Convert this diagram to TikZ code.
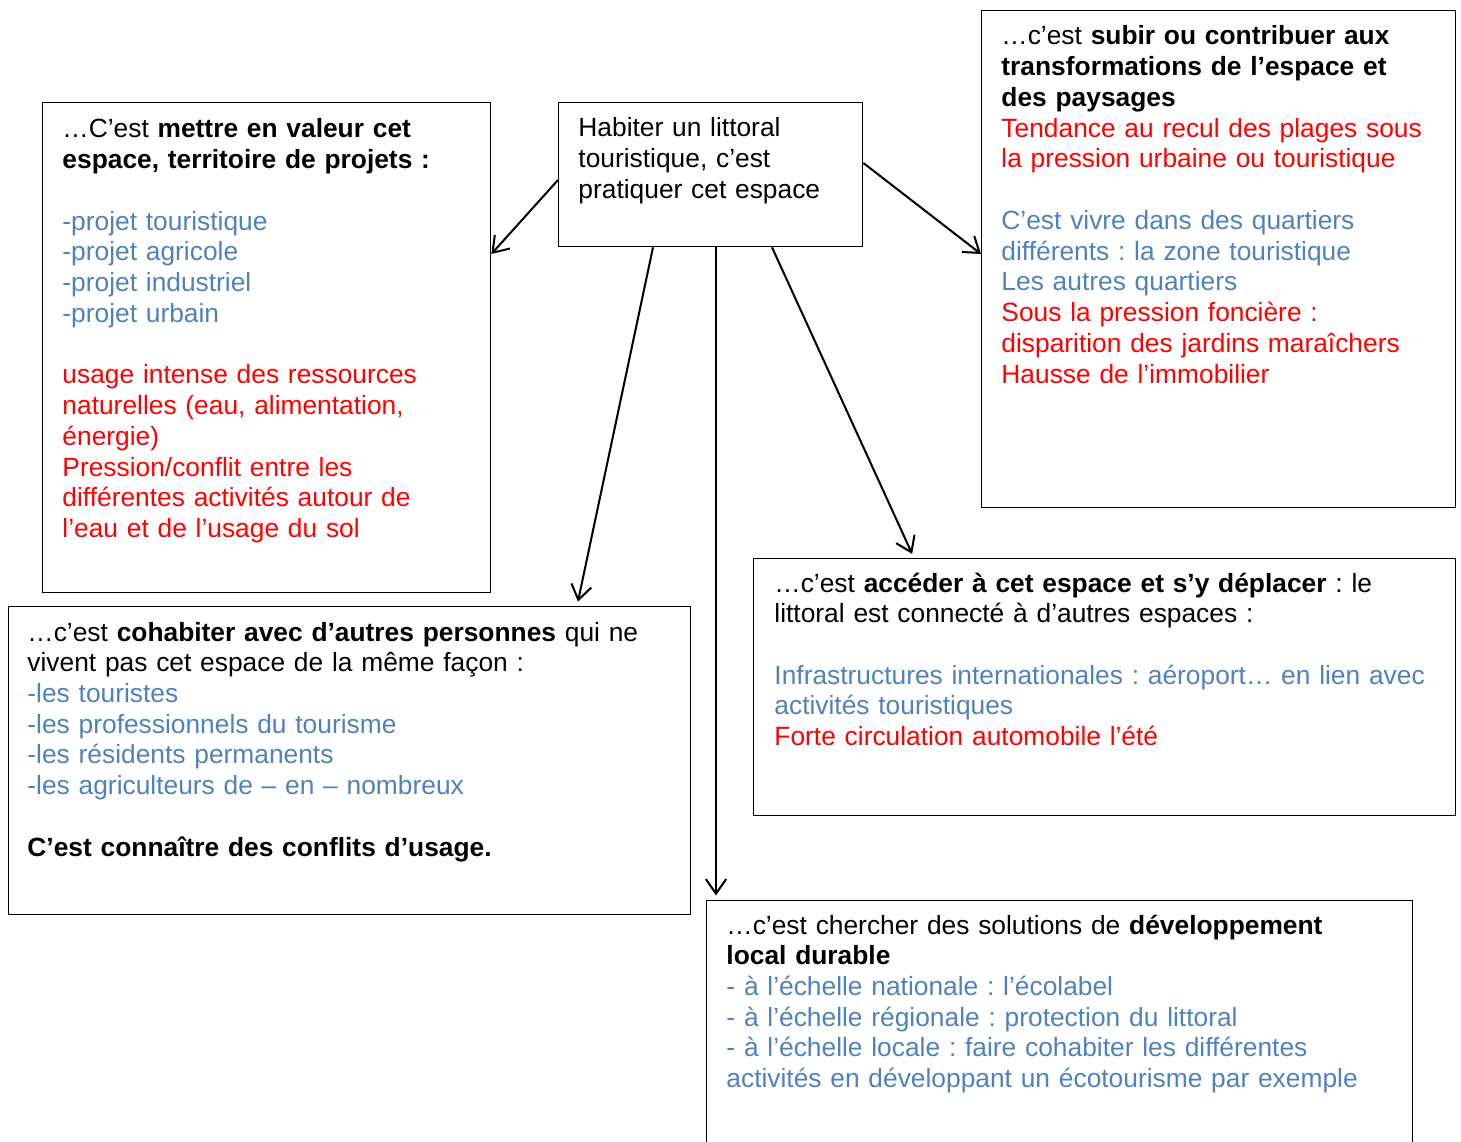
\documentclass[tikz,border=0pt]{standalone}
\usepackage{fontspec}
\setmainfont{Liberation Sans}
\usetikzlibrary{arrows.meta}
\definecolor{bleu}{RGB}{79,129,189}
\definecolor{rouge}{RGB}{255,0,0}
\newlength\px
\setlength\px{0.444pt}
\frenchspacing

\begin{document}
\begin{tikzpicture}[x=0.444pt, y=-0.444pt, font=\fontsize{11.7}{13.65}\selectfont,
    cadre/.style={draw, line width=0.6pt, inner sep=0pt, anchor=north west},
    texte/.style={anchor=base west, inner sep=0pt, align=left},
    fleche/.style={-{Straight Barb[length=6.5pt, width=9pt]}, line width=0.9pt}]
    \useasboundingbox (0,0) rectangle (1461,1142);

    % les cadres
    \node[cadre, minimum width=304\px, minimum height=144\px] (habiter) at (558,102) {};
    \node[cadre, minimum width=448\px, minimum height=490\px] (valeur) at (42,102) {};
    \node[cadre, minimum width=474\px, minimum height=497\px] (transfo) at (981,10) {};
    \node[cadre, minimum width=682\px, minimum height=308\px] (cohab) at (8,606) {};
    \node[cadre, minimum width=702\px, minimum height=257\px] (acces) at (753,558) {};
    \node[cadre, minimum width=706\px, minimum height=250\px] (durable) at (706,900) {};

    % les textes
    \node[texte, text width=280\px] (habiter-t) at (578,137)
        {Habiter un littoral\\touristique, c’est\\pratiquer cet espace};
    \node[texte, text width=430\px] (valeur-t) at (62,138)
        {…C’est \textbf{mettre en valeur cet}\\\textbf{espace, territoire de projets :}\\[13.65pt]
         {\color{bleu}-projet touristique\\-projet agricole\\-projet industriel\\-projet urbain}\\[13.65pt]
         {\color{rouge}usage intense des ressources\\naturelles (eau, alimentation,\\énergie)\\Pression/conflit entre les\\différentes activités autour de\\l’eau et de l’usage du sol}};
    \node[texte, text width=460\px] (transfo-t) at (1001,45)
        {…c’est \textbf{subir ou contribuer aux}\\\textbf{transformations de l’espace et}\\\textbf{des paysages}\\
         {\color{rouge}Tendance au recul des plages sous\\la pression urbaine ou touristique}\\[13.65pt]
         {\color{bleu}C’est vivre dans des quartiers\\différents : la zone touristique\\Les autres quartiers}\\
         {\color{rouge}Sous la pression foncière :\\disparition des jardins maraîchers\\Hausse de l’immobilier}};
    \node[texte, text width=670\px] (cohab-t) at (27,641)
        {…c’est \textbf{cohabiter avec d’autres personnes} qui ne\\vivent pas cet espace de la même façon :\\
         {\color{bleu}-les touristes\\-les professionnels du tourisme\\-les résidents permanents\\-les agriculteurs de – en – nombreux}\\[13.65pt]
         \textbf{C’est connaître des conflits d’usage.}};
    \node[texte, text width=690\px] (acces-t) at (774,592)
        {…c’est \textbf{accéder à cet espace et s’y déplacer} : le\\littoral est connecté à d’autres espaces :\\[13.65pt]
         {\color{bleu}Infrastructures internationales : aéroport… en lien avec\\activités touristiques}\\
         {\color{rouge}Forte circulation automobile l’été}};
    \node[texte, text width=690\px] (durable-t) at (726,934)
        {…c’est chercher des solutions de \textbf{développement}\\\textbf{local durable}\\
         {\color{bleu}- à l’échelle nationale : l’écolabel\\- à l’échelle régionale : protection du littoral\\- à l’échelle locale : faire cohabiter les différentes\\activités en développant un écotourisme par exemple}};

    % les fleches
    \draw[fleche] ([yshift=-78\px]habiter.north west) -- ([yshift=-152\px]valeur.north east);
    \draw[fleche] ([yshift=-61\px]habiter.north east) -- ([yshift=-244\px]transfo.north west);
    \draw[fleche, shorten >=2pt] ([xshift=95\px]habiter.south west) -- ([xshift=569\px]cohab.north west);
    \draw[fleche, shorten >=2pt] ([xshift=158\px]habiter.south west) -- ([xshift=10\px]durable.north west);
    \draw[fleche, shorten >=2pt] ([xshift=214\px]habiter.south west) -- ([xshift=161\px]acces.north west);
\end{tikzpicture}
\end{document}
